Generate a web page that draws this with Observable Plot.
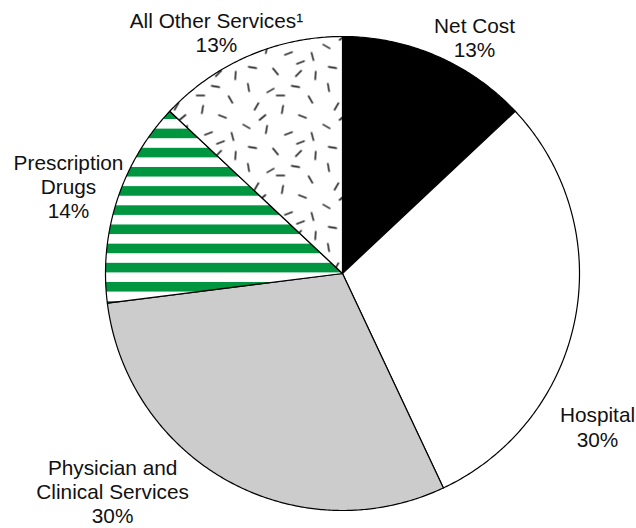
<!DOCTYPE html>
<html>
<head>
<meta charset="utf-8">
<script src="https://cdn.jsdelivr.net/npm/d3@7"></script>
<script src="https://cdn.jsdelivr.net/npm/@observablehq/plot@0.6"></script>
<style>
  html, body { margin: 0; padding: 0; background: #fff; }
  #chart svg { display: block; }
</style>
</head>
<body>
<div id="chart"></div>
<script>
// ---- data (clockwise from 12 o'clock) ----
const categories = ["Net Cost", "Hospital", "Physician and\nClinical Services", "Prescription\nDrugs", "All Other Services¹"];
const shares = [13, 30, 30, 14, 13];

// ---- styling ----
const fills = ["#000000", "#ffffff", "#cccccc", "url(#stripes)", "url(#dashes)"];
// label anchors in radius units (centre of pie = 0,0)
const labelX = [0.557, 1.076, -0.970, -1.156, -0.532];
const labelY = [1.089, -0.556, -0.779, 0.511, 1.110];

// ---- build slice polygons from the data ----
const arcs = d3.pie().sort(null).value(d => d)(shares);
const slices = arcs.map((a, i) => {
  const pts = [{x: 0, y: 0}];
  const steps = Math.max(2, Math.ceil((a.endAngle - a.startAngle) / (Math.PI / 360)));
  for (let k = 0; k <= steps; k++) {
    const t = a.startAngle + (a.endAngle - a.startAngle) * k / steps;
    pts.push({x: Math.sin(t), y: Math.cos(t)});
  }
  pts.push({x: 0, y: 0});
  return pts;
});

const labels = categories.map((c, i) => ({
  text: c + "\n" + shares[i] + "%",
  x: labelX[i],
  y: labelY[i]
}));

const svg = Plot.plot({
  width: 636,
  height: 528,
  marginLeft: 105,
  marginRight: 57,
  marginTop: 36,
  marginBottom: 18,
  x: {domain: [-1, 1], axis: null},
  y: {domain: [-1, 1], axis: null},
  style: {background: "#fff"},
  marks: [
    ...slices.map((pts, i) => Plot.line(pts, {
      x: "x", y: "y", fill: fills[i], stroke: "#000", strokeWidth: 1.2, strokeLinejoin: "round"
    })),
    Plot.text(labels, {
      x: "x", y: "y", text: "text",
      fontFamily: "'Liberation Sans', Arial, Helvetica, sans-serif",
      fontSize: 20.8, lineHeight: 1.16, lineAnchor: "top", textAnchor: "middle", fill: "#111"
    })
  ]
});

// ---- patterns ----
const defs = d3.select(svg).insert("defs", ":first-child");
const stripes = defs.append("pattern")
  .attr("id", "stripes").attr("patternUnits", "userSpaceOnUse")
  .attr("x", 0).attr("y", 13.1).attr("width", 20).attr("height", 19.17);
stripes.append("rect").attr("width", 20).attr("height", 19.17).attr("fill", "#fff");
stripes.append("rect").attr("width", 20).attr("height", 9.6).attr("fill", "#00963f");

const dashTile = [
  [8, 7, 80], [30, 10, -30], [55, 6, 10], [70, 19, 60], [16, 26, -60], [42, 29, 100],
  [62, 36, 20], [6, 46, 30], [26, 49, -80], [48, 53, -20], [72, 56, 75], [12, 67, 10],
  [35, 71, 50], [58, 73, -45], [75, 75, 95], [40, 15, 0], [22, 37, 140], [60, 62, 160]
];
const dashes = defs.append("pattern")
  .attr("id", "dashes").attr("patternUnits", "userSpaceOnUse")
  .attr("width", 80).attr("height", 80);
dashes.append("rect").attr("width", 80).attr("height", 80).attr("fill", "#fff");
dashTile.forEach(([cx, cy, ang]) => {
  const r = ang * Math.PI / 180, h = 4.5;
  dashes.append("line")
    .attr("x1", cx - h * Math.cos(r)).attr("y1", cy - h * Math.sin(r))
    .attr("x2", cx + h * Math.cos(r)).attr("y2", cy + h * Math.sin(r))
    .attr("stroke", "#000").attr("stroke-width", 1.4);
});

document.getElementById("chart").appendChild(svg);
</script>
</body>
</html>
